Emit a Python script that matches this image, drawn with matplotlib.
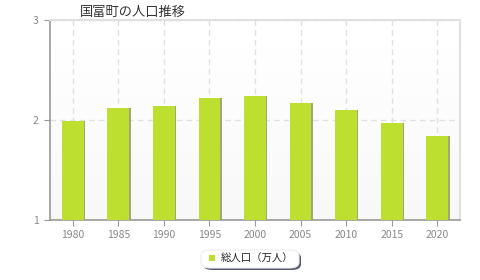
import numpy as np
import matplotlib.pyplot as plt
from matplotlib.patches import FancyBboxPatch

plt.rcParams['font.family'] = ['Noto Sans CJK JP', 'DejaVu Sans']

# Data
years = ['1980', '1985', '1990', '1995', '2000', '2005', '2010', '2015', '2020']
population = [1.99, 2.12, 2.14, 2.22, 2.24, 2.17, 2.10, 1.965, 1.84]
y_ticks = [1, 2, 3]

bar_color = '#bde030'

fig = plt.figure(figsize=(4.8, 2.8), dpi=100)
ax = fig.add_axes([50 / 480, 60 / 280, 410 / 480, 200 / 280])

x = np.arange(len(years))

# soft gradient background
grad = np.linspace(1.0, 0.97, 100).reshape(-1, 1)
ax.imshow(grad, extent=[-0.5, len(years) - 0.5, 1, 3], aspect='auto',
          cmap='gray', vmin=0, vmax=1, zorder=0)

# shadow then bars
ax.bar(x + 0.03, [v - 1 for v in population], width=0.48, bottom=1,
       color='#a0a878', zorder=2)
ax.bar(x, [v - 1 for v in population], width=0.48, bottom=1,
       color=bar_color, zorder=3, label='総人口（万人）')

ax.set_xlim(-0.5, len(years) - 0.5)
ax.set_ylim(1, 3)
ax.set_xticks(x)
ax.set_xticklabels(years)
ax.set_yticks(y_ticks)

ax.grid(True, color='#e0e0e0', linestyle=(0, (4, 3)), linewidth=1, zorder=1)
ax.set_axisbelow(True)

for s in ['top', 'right']:
    ax.spines[s].set_color('#e0e0e0')
    ax.spines[s].set_linewidth(1.5)
for s in ['left', 'bottom']:
    ax.spines[s].set_color('#999999')
    ax.spines[s].set_linewidth(1.2)

ax.tick_params(axis='both', colors='#999999', labelcolor='#888888',
               labelsize=7.5, length=4)
ax.tick_params(axis='x', pad=3)
ax.tick_params(axis='y', pad=4)

fig.text(80 / 480, 1 - 12 / 280, '国富町の人口推移', fontsize=9.5,
         color='#333333', va='center', ha='left')

# legend with rounded box and shadow
fig.patches.append(FancyBboxPatch((203 / 480, 1 - 270 / 280), 98 / 480, 18 / 280,
                                  boxstyle='round,pad=0,rounding_size=0.02',
                                  transform=fig.transFigure, facecolor='#555a70',
                                  edgecolor='none'))
fig.patches.append(FancyBboxPatch((201 / 480, 1 - 268 / 280), 98 / 480, 18 / 280,
                                  boxstyle='round,pad=0,rounding_size=0.02',
                                  transform=fig.transFigure, facecolor='white',
                                  edgecolor='#eeeeee', linewidth=0.8))
fig.patches.append(FancyBboxPatch((209 / 480, 1 - 261 / 280), 6 / 480, 6 / 280,
                                  boxstyle='square,pad=0', transform=fig.transFigure,
                                  facecolor=bar_color, edgecolor='none'))
fig.text(221 / 480, 1 - 258.5 / 280, '総人口（万人）', fontsize=7.5,
         color='#222222', va='center', ha='left')

fig.savefig('out.png', dpi=100)
